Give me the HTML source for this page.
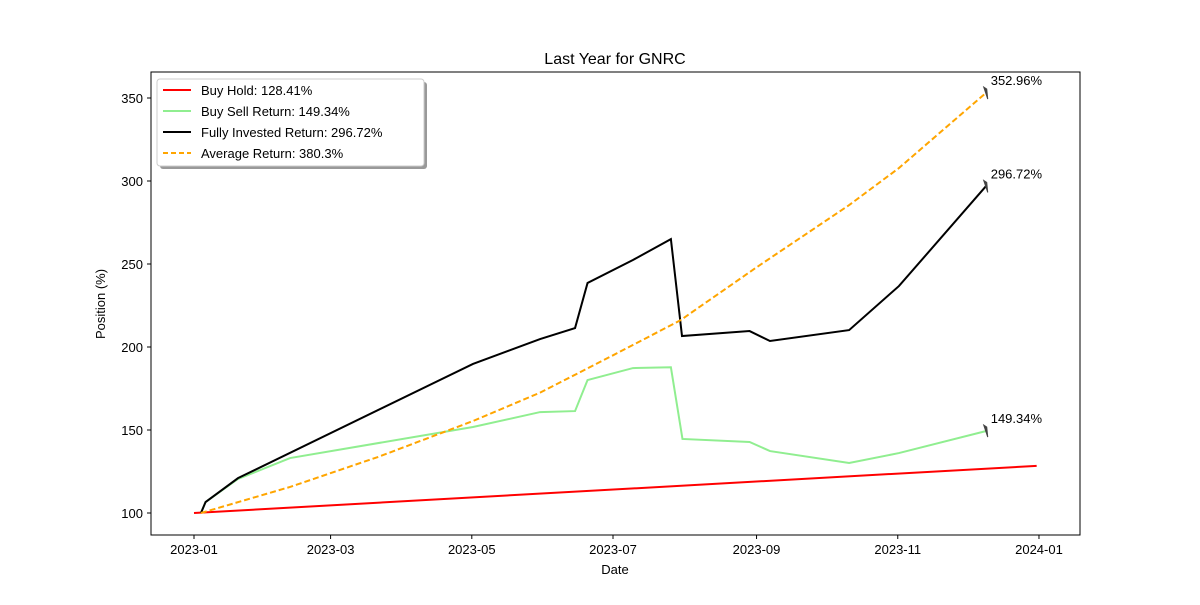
<!DOCTYPE html>
<html><head><meta charset="utf-8"><style>
body{margin:0;background:#fff}
svg{font-family:"Liberation Sans","DejaVu Sans",sans-serif}
</style></head><body>
<svg id="c" width="1200" height="600">
<rect x="0" y="0" width="1200" height="600" fill="#fff"/>
<text x="615" y="64" font-size="16" text-anchor="middle">Last Year for GNRC</text>
<text x="615" y="574" font-size="13" text-anchor="middle">Date</text>
<text x="105" y="304" font-size="13" text-anchor="middle" transform="rotate(-90 105 304)">Position (%)</text>
<g id="grid"></g>
<g id="series"></g>
<rect x="151" y="72" width="929" height="463" fill="none" stroke="#000" stroke-width="1"/>
<g>
<rect x="160" y="82" width="267" height="87" rx="3" fill="#999"/>
<rect x="157" y="79" width="267" height="87" rx="3" fill="#fff" stroke="#ccc"/>
<line x1="163" y1="90" x2="191" y2="90" stroke="red" stroke-width="2"/>
<text x="201" y="95" font-size="13">Buy Hold: 128.41%</text>
<line x1="163" y1="111" x2="191" y2="111" stroke="#90ee90" stroke-width="2"/>
<text x="201" y="116" font-size="13">Buy Sell Return: 149.34%</text>
<line x1="163" y1="132" x2="191" y2="132" stroke="#000" stroke-width="2"/>
<text x="201" y="137" font-size="13">Fully Invested Return: 296.72%</text>
<line x1="163" y1="153" x2="191" y2="153" stroke="orange" stroke-width="2" stroke-dasharray="5,3"/>
<text x="201" y="158" font-size="13">Average Return: 380.3%</text>
</g>
</svg>
<script>
const holdDays=[0,364];
const holdVals=[100,128.41];
const bsDays=[3,5,19,41.5,120.5,149.5,164.6,170,189.6,206,211,240,248.8,283,304.5,342];
const bsVals=[100,106.6,120.5,133.1,151.8,160.8,161.4,180.1,187.3,187.8,144.6,142.8,137.3,130.1,136.1,149.34];
const fiDays=[3,5,19,120.5,149.5,164.6,170,189.6,206,210.8,240,248.8,283,304.5,342];
const fiVals=[100,106.6,121,189.8,204.8,211.4,238.6,252.4,265,206.6,209.6,203.6,210.2,236.7,296.72];
const avDays=[3,41.5,80,120.5,149.5,181,210,243,283,304.5,342];
const avVals=[100,115.7,134,155.4,172.5,195,216,248,285.5,307.8,352.96];
const yTicks=[100,150,200,250,300,350];
const xTickDays=[0,59,120,181,243,304,365];
const xTickLabels=["2023-01","2023-03","2023-05","2023-07","2023-09","2023-11","2024-01"];
const NS="http://www.w3.org/2000/svg";
const xs=d=>194+d*2.315;
const ys=v=>513-(v-100)*1.66;
const svg=document.getElementById('c'),grid=document.getElementById('grid'),ser=document.getElementById('series');
function mk(t,a,p){const e=document.createElementNS(NS,t);for(const k in a)e.setAttribute(k,a[k]);p.appendChild(e);return e;}
yTicks.forEach(v=>{
 const l=mk('line',{x1:147,x2:151,y1:ys(v),y2:ys(v),stroke:'#000'},grid);
 
 
 const t=mk('text',{x:143,y:ys(v)+5,'font-size':13,'text-anchor':'end'},grid);t.textContent=v;
 
 
});
xTickDays.forEach((d,i)=>{
 const l=mk('line',{x1:xs(d),x2:xs(d),y1:535,y2:539,stroke:'#000'},grid);
 
 
 const t=mk('text',{x:xs(d),y:554,'font-size':13,'text-anchor':'middle'},grid);t.textContent=xTickLabels[i];
 
 
});
function line(days,vals,color,name,dash){
 const p=mk('polyline',{points:days.map((d,i)=>xs(d)+','+ys(vals[i])).join(' '),fill:'none',stroke:color,'stroke-width':2,'stroke-dasharray':dash||'none'},ser);
 
 
}
line(holdDays,holdVals,'red','buy-hold-line');
line(bsDays,bsVals,'#90ee90','buy-sell-line');
line(fiDays,fiVals,'#000','fully-invested-line');
line(avDays,avVals,'orange','average-return-line','6,3');
function ann(days,vals,label,name){
 const d=days[days.length-1],v=vals[vals.length-1],x=xs(d),y=ys(v);
 const a=mk('path',{d:`M${x-2},${y-6} L${x+2},${y+6} L${x+1},${y-4} Z`,fill:'#444',stroke:'#444'},ser);
 
 
 const t=mk('text',{x:x+5,y:y-8,'font-size':13},ser);t.textContent=label;
 
 
}
ann(avDays,avVals,'352.96%','average-annotation');
ann(fiDays,fiVals,'296.72%','fully-invested-annotation');
ann(bsDays,bsVals,'149.34%','buy-sell-annotation');
</script>
</body></html>
